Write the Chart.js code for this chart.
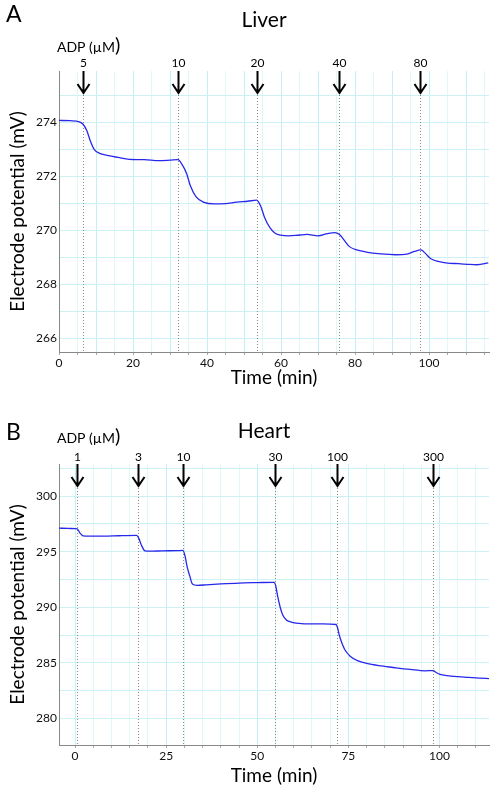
<!DOCTYPE html>
<html>
<head>
<meta charset="utf-8">
<script src="https://cdn.jsdelivr.net/npm/chart.js@4.4.1/dist/chart.umd.min.js"></script>
<style>
  html, body { margin: 0; padding: 0; background: #fff; }
  .panel { width: 496px; height: 396px; }
</style>
</head>
<body>
<div class="panel"><canvas id="liverChart" width="496" height="396"></canvas></div>
<div class="panel"><canvas id="heartChart" width="496" height="396"></canvas></div>
<script>
// liver trace
const liverTime = [0, 3, 5.5, 6.5, 7.5, 8.5, 9.5, 11, 13, 16, 19, 23, 27, 30, 32.2, 33.2, 34.5, 35.5, 37, 39, 42, 45, 48, 51, 53.4,
  54.5, 55.5, 57, 59, 62, 65, 67, 70, 72.5, 74.5, 75.8, 77, 78.5, 80, 83, 87, 91, 94, 96, 97.8, 99, 100.5, 102.5, 105, 108, 111, 113, 116];
const liverPotential = [274.07, 274.06, 274.02, 273.93, 273.7, 273.3, 273.0, 272.85, 272.78, 272.7, 272.63, 272.62, 272.58, 272.6, 272.62,
  272.45, 272.1, 271.65, 271.25, 271.05, 270.98, 270.99, 271.05, 271.08, 271.12, 270.9, 270.5, 270.1, 269.85, 269.8, 269.83, 269.85,
  269.8, 269.88, 269.92, 269.85, 269.65, 269.4, 269.3, 269.2, 269.13, 269.1, 269.12, 269.22, 269.28, 269.15, 268.95, 268.85, 268.79,
  268.77, 268.74, 268.73, 268.8];
const liverDoses = ['5', '10', '20', '40', '80'];
const liverDoseTimes = [6.5, 32.2, 53.4, 75.7, 97.6];

// heart trace
const heartTime = [-4.4, -2, 0, 0.6, 1.3, 2.2, 4, 8, 12, 16.9, 17.5, 18.2, 19.2, 20.5, 24, 28, 29.6, 30.2, 30.8, 31.5, 32.2, 33.5, 36,
  40, 45, 50, 54.6, 55.1, 55.6, 56.3, 57, 58, 59.5, 61.5, 64, 68, 71.6, 72, 72.5, 73.2, 74, 75.5, 77.5, 80, 84, 88, 92, 96, 98.3, 99,
  100.2, 102, 105, 108, 111, 113.6];
const heartPotential = [297.12, 297.1, 297.08, 297.06, 296.7, 296.43, 296.4, 296.4, 296.44, 296.47, 296.2, 295.6, 295.08, 295.05,
  295.08, 295.1, 295.12, 294.6, 293.6, 292.8, 292.1, 291.98, 292.02, 292.1, 292.18, 292.22, 292.25, 291.9, 291.0, 290.0, 289.3, 288.85,
  288.65, 288.55, 288.5, 288.5, 288.45, 288.2, 287.5, 286.8, 286.2, 285.6, 285.2, 284.95, 284.72, 284.55, 284.4, 284.28, 284.3, 284.15,
  283.95, 283.85, 283.75, 283.68, 283.62, 283.58];
const heartDoses = ['1', '3', '10', '30', '100', '300'];
const heartDoseTimes = [0.45, 17.4, 29.6, 54.8, 71.8, 98.3];

const FONT = 'Lato';
const majorGrid = 'rgb(196,240,244)';
const minorGrid = 'rgb(224,248,250)';
const hGrid = 'rgb(205,242,246)';

// dotted lines, arrows and the text above the plot
const annotate = {
  id: 'annotate',
  beforeDatasetsDraw(chart, args, o) {
    const { ctx, chartArea: a, scales: { x } } = chart;
    ctx.save();
    ctx.strokeStyle = '#8a8a8a';
    ctx.lineWidth = 1;
    ctx.setLineDash([1, 2]);
    o.times.forEach(t => {
      const px = Math.round(x.getPixelForValue(t)) + 0.5;
      ctx.beginPath();
      ctx.moveTo(px, a.top);
      ctx.lineTo(px, a.bottom);
      ctx.stroke();
    });
    ctx.restore();
  },
  afterDraw(chart, args, o) {
    const { ctx, chartArea: a, scales: { x } } = chart;
    ctx.save();
    ctx.strokeStyle = '#000';
    ctx.fillStyle = '#000';
    ctx.lineWidth = 2;
    ctx.textAlign = 'center';
    ctx.textBaseline = 'middle';
    ctx.font = '12px ' + FONT;
    o.times.forEach((t, i) => {
      const px = Math.round(x.getPixelForValue(t)) + 0.5;
      const tip = a.top + 22;
      ctx.beginPath();
      ctx.moveTo(px, a.top);
      ctx.lineTo(px, tip);
      ctx.moveTo(px - 6, tip - 9);
      ctx.lineTo(px, tip);
      ctx.lineTo(px + 6, tip - 9);
      ctx.stroke();
      ctx.fillText(o.doses[i], px, a.top - o.doseGap);
    });
    // ADP (µM) label
    ctx.textAlign = 'left';
    ctx.font = '14px ' + FONT;
    const adp = 'ADP (µM';
    ctx.fillText(adp, 57, a.top - o.adpGap);
    const w = ctx.measureText(adp).width;
    ctx.font = '20px ' + FONT;
    ctx.fillText(')', 57 + w, a.top - o.adpGap - 1);
    // panel letter and title
    ctx.font = '23px ' + FONT;
    ctx.fillText(o.letter, 6, o.letterY);
    ctx.textAlign = 'center';
    ctx.font = '21px ' + FONT;
    ctx.fillText(o.title, 264, o.titleY);
    ctx.restore();
  }
};

function makeChart(id, time, potential, s) {
  const points = time.map((t, i) => ({ x: t, y: potential[i] }));
  return new Chart(document.getElementById(id).getContext('2d'), {
    type: 'line',
    data: {
      datasets: [{
        data: points,
        borderColor: 'rgb(40,40,235)',
        borderWidth: 1.3,
        pointRadius: 0,
        cubicInterpolationMode: 'monotone',
        fill: false
      }]
    },
    options: {
      responsive: false,
      animation: false,
      layout: { padding: { top: s.top, right: 7, left: 0, bottom: 0 } },
      plugins: {
        legend: { display: false },
        tooltip: { enabled: false },
        annotate: s.annot
      },
      scales: {
        x: {
          type: 'linear',
          min: s.xMin, max: s.xMax,
          afterFit: sc => { sc.height = s.xHeight; },
          border: { color: '#888', width: 1 },
          grid: {
            color: c => (c.tick && c.tick.value % s.xMajor === 0) ? majorGrid : minorGrid,
            tickColor: '#aaa',
            tickLength: 3
          },
          ticks: {
            stepSize: 5,
            includeBounds: false,
            maxRotation: 0,
            autoSkip: false,
            padding: 1,
            color: '#111',
            font: { family: FONT, size: 12 },
            callback: v => (v % s.xLabel === 0 ? String(v) : '')
          },
          title: {
            display: true,
            text: 'Time (min)',
            color: '#000',
            font: { family: FONT, size: 19 },
            padding: { top: 0, bottom: s.xTitlePad }
          }
        },
        y: {
          type: 'linear',
          min: s.yMin, max: s.yMax,
          afterFit: sc => { sc.width = 59; },
          border: { color: '#888', width: 1 },
          grid: { color: hGrid, drawTicks: false },
          ticks: {
            stepSize: s.yStep,
            includeBounds: false,
            autoSkip: false,
            padding: 2,
            color: '#111',
            font: { family: FONT, size: 12 },
            callback: v => (Math.abs(v % s.yLabel) < 1e-6 ? String(v) : '')
          },
          title: {
            display: true,
            text: 'Electrode potential (mV)',
            color: '#000',
            font: { family: FONT, size: 19 },
            padding: { top: 6, bottom: 0 }
          }
        }
      }
    },
    plugins: [annotate]
  });
}

makeChart('liverChart', liverTime, liverPotential, {
  top: 71, xHeight: 44, xTitlePad: 6.6,
  xMin: 0, xMax: 116.2, xMajor: 10, xLabel: 20,
  yMin: 265.5, yMax: 275.9, yStep: 1, yLabel: 2,
  annot: { times: liverDoseTimes, doses: liverDoses, doseGap: 8, adpGap: 24, letter: 'A', letterY: 15, title: 'Liver', titleY: 20 }
});

makeChart('heartChart', heartTime, heartPotential, {
  top: 68, xHeight: 47, xTitlePad: 5,
  xMin: -4.4, xMax: 113.6, xMajor: 25, xLabel: 25,
  yMin: 277.6, yMax: 302.9, yStep: 2.5, yLabel: 5,
  annot: { times: heartDoseTimes, doses: heartDoses, doseGap: 7, adpGap: 26, letter: 'B', letterY: 37, title: 'Heart', titleY: 35 }
});
</script>
</body>
</html>
